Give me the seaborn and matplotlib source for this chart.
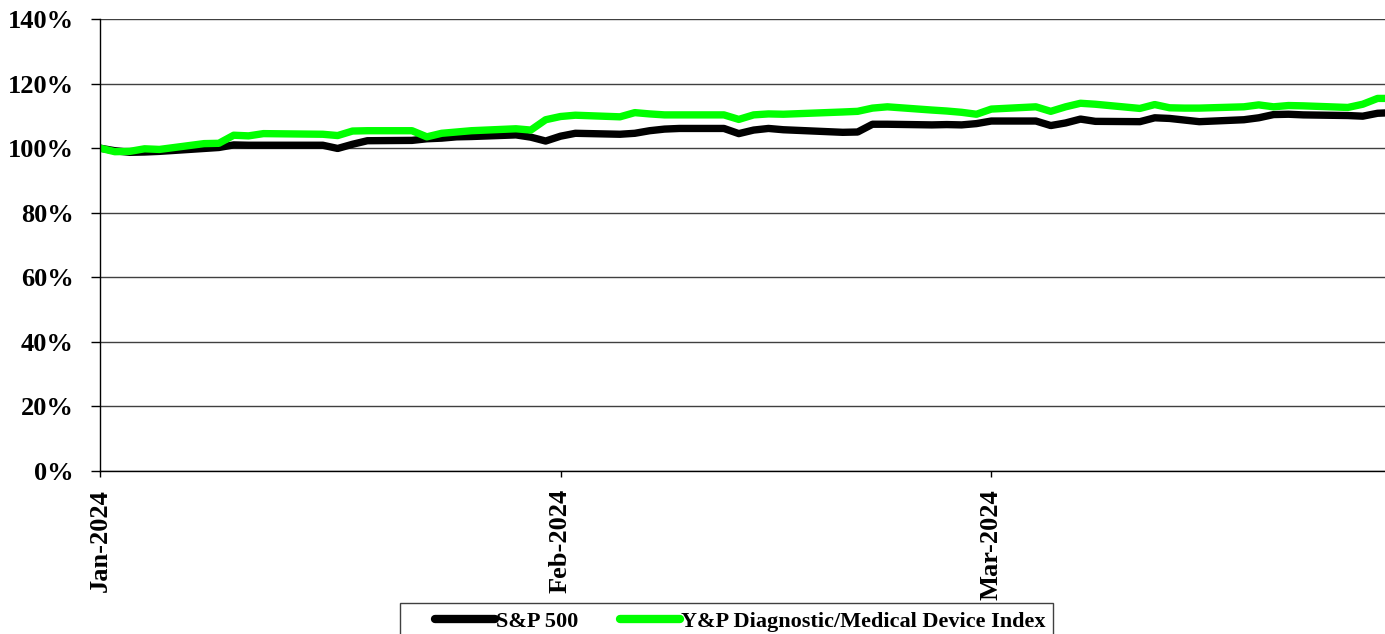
import matplotlib
matplotlib.use("Agg")
import matplotlib.pyplot as plt
import matplotlib.dates as mdates
from matplotlib.patches import Rectangle
from matplotlib.ticker import FuncFormatter, MultipleLocator
import pandas as pd
import seaborn as sns

# trading days, Q1 2024 (Jan 1 is the base point)
dates = [
    "2024-01-01", "2024-01-02", "2024-01-03", "2024-01-04", "2024-01-05",
    "2024-01-08", "2024-01-09", "2024-01-10", "2024-01-11", "2024-01-12",
    "2024-01-16", "2024-01-17", "2024-01-18", "2024-01-19", "2024-01-22",
    "2024-01-23", "2024-01-24", "2024-01-25", "2024-01-26", "2024-01-29",
    "2024-01-30", "2024-01-31", "2024-02-01", "2024-02-02", "2024-02-05",
    "2024-02-06", "2024-02-07", "2024-02-08", "2024-02-09", "2024-02-12",
    "2024-02-13", "2024-02-14", "2024-02-15", "2024-02-16", "2024-02-20",
    "2024-02-21", "2024-02-22", "2024-02-23", "2024-02-26", "2024-02-27",
    "2024-02-28", "2024-02-29", "2024-03-01", "2024-03-04", "2024-03-05",
    "2024-03-06", "2024-03-07", "2024-03-08", "2024-03-11", "2024-03-12",
    "2024-03-13", "2024-03-14", "2024-03-15", "2024-03-18", "2024-03-19",
    "2024-03-20", "2024-03-21", "2024-03-22", "2024-03-25", "2024-03-26",
    "2024-03-27", "2024-03-28",
]

# values in % of the starting level
sp500 = [
    100.0, 99.2, 98.7, 98.8, 99.0,
    99.9, 100.2, 101.0, 100.9, 100.9,
    100.9, 99.9, 101.2, 102.3, 102.4,
    102.9, 103.1, 103.5, 103.6, 104.1,
    103.4, 102.2, 103.7, 104.6, 104.3,
    104.6, 105.4, 105.9, 106.1, 106.1,
    104.5, 105.6, 106.1, 105.7, 104.9,
    105.0, 107.4, 107.4, 107.2, 107.3,
    107.2, 107.6, 108.4, 108.4, 107.0,
    107.8, 109.0, 108.3, 108.2, 109.4,
    109.2, 108.7, 108.2, 108.8, 109.4,
    110.4, 110.5, 110.3, 110.1, 109.9,
    110.8, 111.0,
]

yp_index = [
    100.0, 98.9, 99.0, 99.8, 99.6,
    101.4, 101.5, 104.0, 103.8, 104.5,
    104.3, 103.9, 105.3, 105.4, 105.4,
    103.5, 104.6, 105.0, 105.4, 106.0,
    105.6, 108.8, 109.8, 110.2, 109.7,
    111.0, 110.6, 110.3, 110.3, 110.3,
    108.9, 110.3, 110.6, 110.5, 111.2,
    111.4, 112.4, 112.8, 111.8, 111.5,
    111.1, 110.5, 112.1, 112.8, 111.4,
    112.8, 113.9, 113.6, 112.3, 113.5,
    112.5, 112.4, 112.4, 112.8, 113.4,
    112.8, 113.2, 113.1, 112.6, 113.6,
    115.4, 115.4,
]

series_names = ["S&P 500", "Y&P Diagnostic/Medical Device Index"]
colors = ["#000000", "#00FF00"]

df = pd.concat([
    pd.DataFrame({"date": pd.to_datetime(dates), "value": sp500, "series": series_names[0]}),
    pd.DataFrame({"date": pd.to_datetime(dates), "value": yp_index, "series": series_names[1]}),
])

sns.set_style("white")
plt.rcParams["font.family"] = ["Liberation Serif", "DejaVu Serif"]
plt.rcParams["font.weight"] = "bold"
plt.rcParams["text.color"] = "black"
plt.rcParams["xtick.color"] = "black"
plt.rcParams["ytick.color"] = "black"

fig = plt.figure(figsize=(13.85, 6.34), dpi=100)
ax = fig.add_axes([100 / 1385, 163 / 634, 1285 / 1385, 452 / 634])

sns.lineplot(data=df, x="date", y="value", hue="series", palette=colors,
             linewidth=5.3, ax=ax, legend=False, estimator=None)

ax.set_ylim(0, 140)
ax.set_xlim(pd.Timestamp("2024-01-01"), pd.Timestamp("2024-03-27 12:00"))
ax.yaxis.set_major_locator(MultipleLocator(20))
ax.yaxis.set_major_formatter(FuncFormatter(lambda v, p: f"{v:.0f}%"))
ax.xaxis.set_major_locator(mdates.MonthLocator())
ax.xaxis.set_major_formatter(mdates.DateFormatter("%b-%Y"))

ax.grid(axis="y", color="#404040", linewidth=1)
ax.set_axisbelow(True)
ax.set_xlabel("")
ax.set_ylabel("")

for s in ["top", "right"]:
    ax.spines[s].set_visible(False)
for s in ["left", "bottom"]:
    ax.spines[s].set_color("black")
    ax.spines[s].set_linewidth(1)

ax.tick_params(axis="y", length=6.5, width=1, labelsize=19, pad=12.5, left=True)
ax.tick_params(axis="x", length=4, width=1, labelsize=19, pad=9,
               bottom=True, labelrotation=90)
for lbl in ax.get_xticklabels() + ax.get_yticklabels():
    lbl.set_fontweight("bold")
    lbl.set_color("black")

# legend box, cut off by the bottom edge like in the original
fig.patches.append(Rectangle((400 / 1385, -0.05), 653 / 1385, 0.05 + 31 / 634,
                             transform=fig.transFigure, fill=False,
                             edgecolor="#404040", linewidth=1))

handles = ax.get_lines()[:2]
leg = fig.legend(handles, series_names, loc="upper left",
                 bbox_to_anchor=(433 / 1385, 1 - 609 / 634), ncol=2,
                 frameon=False,
                 prop={"family": "Liberation Serif", "weight": "bold", "size": 16},
                 handlelength=2.7, handletextpad=0.05, columnspacing=1.85,
                 borderpad=0.1, borderaxespad=0)
for line in leg.get_lines():
    line.set_linewidth(6)
for t in leg.get_texts():
    t.set_color("black")

fig.savefig("out.png", dpi=100)
